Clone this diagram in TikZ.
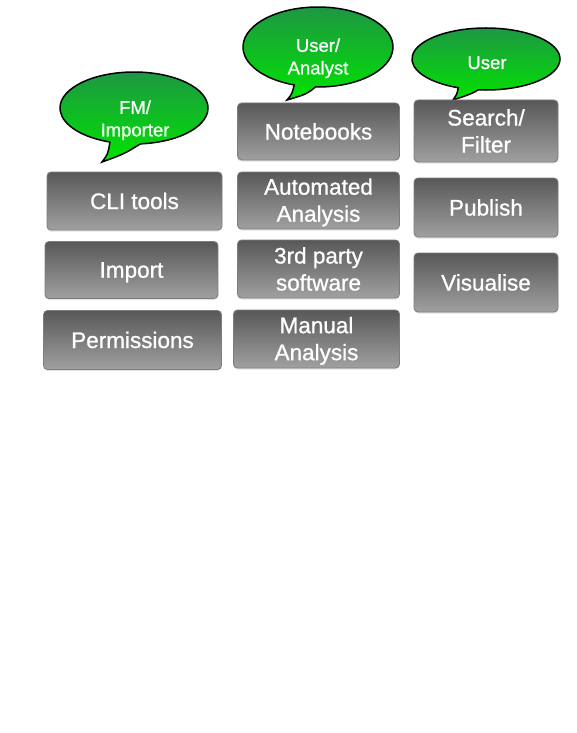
\documentclass[tikz,border=0pt]{standalone}
\usepackage{fontspec}
\setmainfont{Liberation Sans}
\newfontfamily\medfont{Liberation Sans}[FakeBold=0.9]
\usetikzlibrary{calc,shadows}
\definecolor{boxtop}{RGB}{88,88,88}
\definecolor{boxbot}{RGB}{160,160,160}
\definecolor{boxedge}{RGB}{125,125,125}
\definecolor{bubtop}{RGB}{30,150,68}
\definecolor{bubbot}{RGB}{0,228,0}
\newcommand\bs{\rule[-4pt]{0pt}{24pt}}
\newcommand\ts{\rule[-3pt]{0pt}{20pt}}
\tikzset{
  box/.style={draw=boxedge, line width=0.8pt, rounded corners=4pt,
    top color=boxtop, bottom color=boxbot, text=white,
    font=\medfont\fontsize{22.5}{27}\selectfont, align=center, inner sep=0pt,
    drop shadow={opacity=0.22, shadow xshift=0pt, shadow yshift=-1.5pt}},
  bubble/.style={draw=black, line width=1.5pt, top color=bubtop, bottom color=bubbot},
  bubtext/.style={text=white, font=\medfont\fontsize{18.5}{22.5}\selectfont, align=center, inner sep=0pt}
}
\begin{document}
\begin{tikzpicture}[x=1pt,y=1pt]
\useasboundingbox (0,0) rectangle (576,-733);
\fill[white] (0,0) rectangle (576,-733);

% bubbles
\coordinate (fmc) at (134,-108);
\coordinate (fmtip) at (102,-162);
\draw[bubble] ($(fmc)+(275:74pt and 36pt)$) arc[start angle=275, end angle=611, x radius=74pt, y radius=36pt]
  .. controls ($(fmtip)+(6,8)$) .. (fmtip) .. controls ($(fmtip)+(22,8)$) .. cycle;
\node[bubtext] (fm) at (135,-118.5) {\ts FM/\\\ts Importer};

\coordinate (uac) at (318,-47);
\coordinate (uatip) at (287,-100);
\draw[bubble] ($(uac)+(268:75pt and 40pt)$) arc[start angle=268, end angle=611.5, x radius=75pt, y radius=40pt]
  .. controls ($(uatip)+(5,6)$) .. (uatip) .. controls ($(uatip)+(20,6)$) .. cycle;
\node[bubtext] (ua) at (318,-56.5) {\ts User/\\\ts Analyst};

\coordinate (usc) at (486,-59);
\coordinate (ustip) at (453,-100);
\draw[bubble] ($(usc)+(264:74pt and 31pt)$) arc[start angle=264, end angle=608, x radius=74pt, y radius=31pt]
  .. controls ($(ustip)+(4,6)$) .. (ustip) .. controls ($(ustip)+(18,6)$) .. cycle;
\node[bubtext] (us) at (487,-62) {\ts User};

% left column
\node[box, minimum width=175pt, minimum height=58pt] (cli) at (134.5,-201) {\bs CLI tools};
\node[box, minimum width=173pt, minimum height=57pt] (imp) at (131.5,-270) {\bs Import};
\node[box, minimum width=178pt, minimum height=59pt] (perm) at (132.5,-340) {\bs Permissions};

% middle column
\node[box, minimum width=162pt, minimum height=57pt] (nb) at (318.5,-131.5) {\bs Notebooks};
\node[box, minimum width=162pt, minimum height=57pt] (auto) at (318.5,-200.5) {\bs Automated\\\bs Analysis};
\node[box, minimum width=162pt, minimum height=58pt] (third) at (318.5,-269) {\bs 3rd party\\\bs software};
\node[box, minimum width=166pt, minimum height=58pt] (man) at (316.5,-339) {\bs Manual\\\bs Analysis};

% right column
\node[box, minimum width=144pt, minimum height=62pt] (sf) at (486,-131) {\bs Search/\\\bs Filter};
\node[box, minimum width=144pt, minimum height=59pt] (pub) at (486,-207.5) {\bs Publish};
\node[box, minimum width=144pt, minimum height=59pt] (vis) at (486,-282.5) {\bs Visualise};
\end{tikzpicture}
\end{document}
